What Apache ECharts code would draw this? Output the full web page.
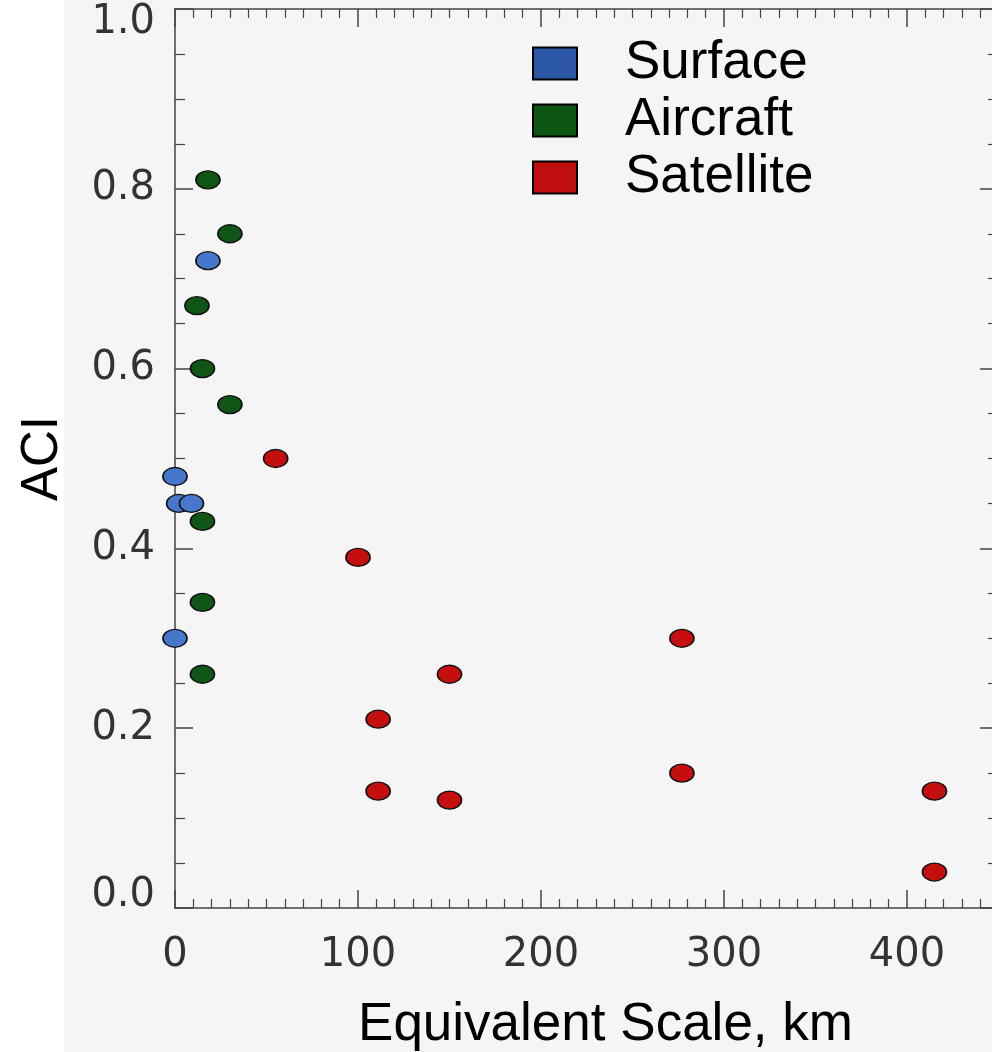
<!DOCTYPE html>
<html>
<head>
<meta charset="utf-8">
<script src="https://cdn.jsdelivr.net/npm/echarts@6/dist/echarts.min.js"></script>
<style>
  html, body { margin: 0; padding: 0; background: #ffffff; }
  #chart { width: 992px; height: 1052px; background: linear-gradient(to right, #ffffff 64px, #f5f5f5 64px); }
</style>
</head>
<body>
<div id="chart"></div>
<script>
// Data (x: Equivalent Scale, km; y: ACI)
const seriesNames = ['Surface', 'Aircraft', 'Satellite'];
const surfacePoints = [[18, 0.72], [0, 0.48], [2, 0.45], [9, 0.45], [0, 0.30]];
const aircraftPoints = [[18, 0.81], [30, 0.75], [12, 0.67], [15, 0.60], [30, 0.56], [15, 0.43], [15, 0.34], [15, 0.26]];
const satellitePoints = [[55, 0.50], [100, 0.39], [111, 0.21], [111, 0.13], [150, 0.26], [150, 0.12], [277, 0.30], [277, 0.15], [415, 0.13], [415, 0.04]];
const markerColors = ['#4677cc', '#0f5516', '#c50f0f'];
const legendColors = ['#2a56a5', '#0d5512', '#c00d0d'];
const xTickLabels = [0, 100, 200, 300, 400];
const yTickLabels = [0.0, 0.2, 0.4, 0.6, 0.8, 1.0];

const chart = echarts.init(document.getElementById('chart'), null, { renderer: 'canvas' });

const axisColor = '#444444';
const labelFont = { fontFamily: 'DejaVu Sans', fontSize: 40, color: '#333333' };
const titleFont = { fontFamily: 'Liberation Sans', fontSize: 53, color: '#000000' };

function mkSeries(name, data, color) {
  return {
    name: name,
    type: 'scatter',
    xAxisIndex: 0,
    yAxisIndex: 0,
    data: data,
    symbol: 'circle',
    symbolSize: [24, 18],
    itemStyle: { color: color, borderColor: '#111111', borderWidth: 1.5, opacity: 1 },
    emphasis: { disabled: true }
  };
}

const tickStyle = { show: true, inside: true, length: 18, lineStyle: { color: axisColor, width: 1.5 } };
const lineStyle = { show: true, onZero: false, lineStyle: { color: axisColor, width: 1.5 } };

chart.setOption({
  animation: false,
  backgroundColor: 'transparent',
  grid: [
    { left: 175, top: 9, width: 915, height: 899, containLabel: false, outerBoundsMode: 'none' },
    { left: 175, top: 9, width: 823, height: 899, containLabel: false, outerBoundsMode: 'none' }
  ],
  legend: {
    orient: 'vertical',
    left: 527,
    top: 32,
    itemWidth: 44,
    itemHeight: 32,
    itemGap: 4,
    icon: 'rect',
    textStyle: { fontFamily: 'Liberation Sans', fontSize: 53, color: '#000000', padding: [0, 0, 0, 43] },
    data: seriesNames.map((n, i) => ({ name: n, icon: 'rect', itemStyle: { color: legendColors[i], borderColor: '#000000', borderWidth: 2 } }))
  },
  xAxis: [
    {
      type: 'value', gridIndex: 0, position: 'bottom', min: 0, max: 500, interval: 100,
      name: 'Equivalent Scale, km', nameLocation: 'middle', nameGap: 91,
      nameTextStyle: Object.assign({}, titleFont, { padding: [0, 54, 0, 0] }),
      axisLine: lineStyle,
      axisTick: tickStyle,
      minorTick: { show: true, splitNumber: 10, length: 9, lineStyle: { color: axisColor, width: 1.2 } },
      axisLabel: Object.assign({}, labelFont, { margin: 28, showMaxLabel: false,
        formatter: v => (xTickLabels.indexOf(v) >= 0 ? String(v) : '') }),
      splitLine: { show: false }
    },
    {
      type: 'value', gridIndex: 0, position: 'top', min: 0, max: 500, interval: 100,
      axisLine: lineStyle,
      axisTick: tickStyle,
      minorTick: { show: true, splitNumber: 10, length: 9, lineStyle: { color: axisColor, width: 1.2 } },
      axisLabel: { show: false },
      splitLine: { show: false }
    },
    {
      type: 'value', gridIndex: 1, position: 'bottom', min: 0, max: 450, show: false
    }
  ],
  yAxis: [
    {
      type: 'value', gridIndex: 0, position: 'left', min: 0, max: 1, interval: 0.2,
      name: 'ACI', nameLocation: 'middle', nameGap: 107, nameRotate: 90,
      nameTextStyle: Object.assign({}, titleFont, { fontSize: 51 }),
      axisLine: lineStyle,
      axisTick: tickStyle,
      minorTick: { show: true, splitNumber: 4, length: 10, lineStyle: { color: axisColor, width: 1.2 } },
      axisLabel: Object.assign({}, labelFont, { margin: 20,
        formatter: v => {
          const t = yTickLabels.find(y => Math.abs(y - v) < 1e-6);
          if (t === undefined) return '';
          if (t === 1) return '{top|' + t.toFixed(1) + '}';
          if (t === 0) return '{bot|' + t.toFixed(1) + '}';
          return t.toFixed(1);
        },
        rich: {
          top: Object.assign({}, labelFont, { padding: [28, 0, 0, 0] }),
          bot: Object.assign({}, labelFont, { padding: [0, 0, 24, 0] })
        }
      }),
      splitLine: { show: false }
    },
    {
      type: 'value', gridIndex: 1, position: 'right', min: 0, max: 1, interval: 0.2,
      axisLine: lineStyle,
      axisTick: tickStyle,
      minorTick: { show: true, splitNumber: 4, length: 10, lineStyle: { color: axisColor, width: 1.2 } },
      axisLabel: { show: false },
      splitLine: { show: false }
    }
  ],
  series: [
    mkSeries(seriesNames[0], surfacePoints, markerColors[0]),
    mkSeries(seriesNames[1], aircraftPoints, markerColors[1]),
    mkSeries(seriesNames[2], satellitePoints, markerColors[2])
  ]
});
</script>
</body>
</html>
